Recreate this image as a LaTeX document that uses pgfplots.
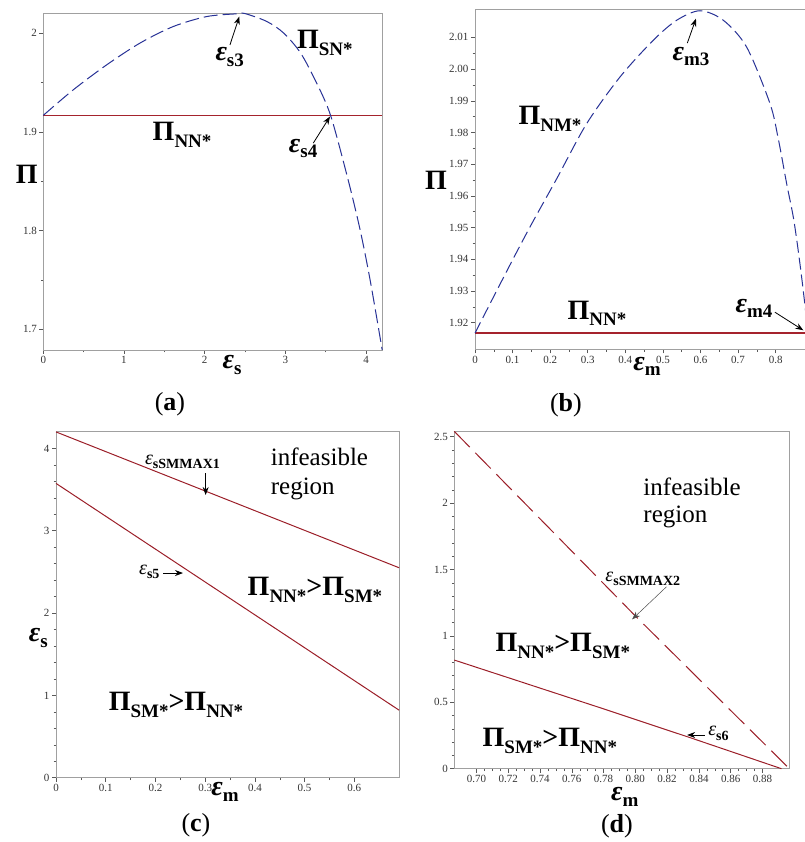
\documentclass[border=0pt]{standalone}
\usepackage{fontspec}
\setmainfont{Liberation Serif}
\usepackage{pgfplots}
\pgfplotsset{compat=1.18}
\usetikzlibrary{arrows.meta}
\definecolor{cblue}{RGB}{40,50,150}
\definecolor{cred}{RGB}{155,30,40}
\definecolor{credh}{RGB}{165,35,45}
\definecolor{cframe}{RGB}{160,160,160}
\newcommand{\bigPi}[1]{\textbf{\fontsize{28}{28}\selectfont Π\raisebox{-0.24em}{\fontsize{19}{19}\selectfont #1}}}
\newcommand{\eps}[1]{\textbf{\fontsize{28}{28}\selectfont\itshape ε\raisebox{-0.2em}{\upshape\fontsize{19}{19}\selectfont #1}}}
\newcommand{\epsS}[1]{{\fontsize{20}{20}\selectfont\itshape ε\raisebox{-0.22em}{\upshape\bfseries\fontsize{14}{14}\selectfont #1}}}
\newcommand{\rel}[2]{\bigPi{#1}\textbf{\fontsize{28}{28}\selectfont >}\bigPi{#2}}
\newcommand{\capt}[1]{{\fontsize{26}{26}\selectfont (\textbf{#1})}}
\pgfplotsset{mapleax/.style={scale only axis, clip=false,
  axis line style={cframe, line width=0.9pt},
  tick pos=left, tick align=outside,
  major tick length=4pt, minor tick length=2.5pt,
  every tick/.style={black!65, line width=0.5pt},
  tick label style={font=\fontsize{11}{11}\selectfont, text=black!80},
  xticklabel style={yshift=1pt}, yticklabel style={xshift=1pt},
  /pgf/number format/assume math mode=true}}
\tikzset{arr/.style={-{Stealth[length=8pt,width=6pt]}, black, line width=0.8pt}}
\begin{document}
\begin{tikzpicture}
\path[use as bounding box] (0pt,0pt) rectangle (804pt,842pt);
% (a)
\begin{axis}[mapleax, at={(43.3pt,492pt)}, anchor=south west,
  width=338.9pt, height=336.4pt, xmin=0, xmax=4.2, ymin=1.679, ymax=2.0198,
  xtick={0,1,2,3,4}, ytick={1.7,1.8,1.9,2}, minor x tick num=1, minor y tick num=1]
\addplot[draw=credh, line width=1.5pt] coordinates {(0,1.9167) (1.4,1.9167) (2.8,1.9167) (4.2,1.9167)};
\addplot[cblue, line width=1pt, dash pattern=on 14pt off 5pt, smooth] coordinates {
(0,1.9167) (0.372,1.9426) (0.786,1.9679) (1.198,1.9899) (1.611,2.0067) (2.025,2.0168)
(2.40,2.0196) (2.5,2.0198) (2.77,2.0118) (2.98,2.0) (3.19,1.9797) (3.39,1.949)
(3.56,1.9167) (3.76,1.857) (3.92,1.803) (4.05,1.750) (4.2,1.679)};
\node at (axis cs:3.49,1.990) {\bigPi{SN*}};
\node at (axis cs:2.31,1.976) {\eps{s3}};
\draw[arr] (axis cs:2.313,1.988) -- (axis cs:2.429,2.0168);
\node at (axis cs:1.72,1.897) {\bigPi{NN*}};
\node at (axis cs:3.22,1.883) {\eps{s4}};
\draw[arr] (axis cs:3.346,1.8886) -- (axis cs:3.553,1.9155);
\node at (axis cs:-0.206,1.8565) {\textbf{\fontsize{28}{28}\selectfont Π}};
\node at (axis cs:2.338,1.664) {\eps{s}};
\node at (axis cs:1.57,1.6236) {\capt{a}};
\end{axis}
% (b)
\begin{axis}[mapleax, at={(475pt,492.7pt)}, anchor=south west,
  width=330.7pt, height=339.5pt, xmin=0, xmax=0.88, ymin=1.9116, ymax=2.0187,
  xtick={0,0.1,...,0.8}, ytick={1.92,1.93,...,2.01}, minor x tick num=1, minor y tick num=1,
  yticklabel style={/pgf/number format/.cd, fixed, fixed zerofill, precision=2}]
\addplot[draw=credh, line width=1.5pt] coordinates {(0,1.9167) (0.44,1.9167) (0.88,1.9167)};
\addplot[cblue, line width=1pt, dash pattern=on 12pt off 5pt, smooth] coordinates {
(0,1.9167) (0.05,1.9283) (0.1,1.9398) (0.15,1.951) (0.2174,1.9654) (0.2972,1.9828)
(0.3858,1.9975) (0.4745,2.0091) (0.5367,2.0154) (0.5987,2.0184) (0.6607,2.0154)
(0.723,2.0069) (0.785,1.9891) (0.807,1.978) (0.8294,1.9638) (0.847,1.9533)
(0.86,1.9428) (0.8736,1.930) (0.886,1.9167)};
\node at (axis cs:0.1996,1.9844) {\bigPi{NM*}};
\node at (axis cs:0.5748,2.004) {\eps{m3}};
\draw[arr] (axis cs:0.565,2.0082) -- (axis cs:0.588,2.0159);
\node at (axis cs:0.3246,1.9229) {\bigPi{NN*}};
\node at (axis cs:0.7424,1.9245) {\eps{m4}};
\draw[arr] (axis cs:0.798,1.9233) -- (axis cs:0.8736,1.9176);
\node at (axis cs:-0.1038,1.9649) {\textbf{\fontsize{28}{28}\selectfont Π}};
\node at (axis cs:0.4577,1.9062) {\eps{m}};
\node at (axis cs:0.242,1.8939) {\capt{b}};
\end{axis}
% (c)
\begin{axis}[mapleax, at={(56pt,64.3pt)}, anchor=south west,
  width=343.1pt, height=346.6pt, xmin=0, xmax=0.69, ymin=0, ymax=4.21,
  xtick={0,0.1,...,0.6}, ytick={0,1,2,3,4}, minor x tick num=1, minor y tick num=4]
\addplot[cred, line width=1pt] coordinates {(0,4.2) (0.69,2.55)};
\addplot[cred, line width=1pt] coordinates {(0,3.575) (0.69,0.82)};
\node[anchor=west, font=\fontsize{25}{25}\selectfont] at (axis cs:0.425,3.896) {infeasible};
\node[anchor=west, font=\fontsize{25}{25}\selectfont] at (axis cs:0.425,3.507) {region};
\node at (axis cs:0.2544,3.835) {\epsS{sSMMAX1}};
\draw[arr] (axis cs:0.301,3.697) -- (axis cs:0.301,3.434);
\node[anchor=east] at (axis cs:0.2152,2.50) {\epsS{s5}};
\draw[arr] (axis cs:0.2152,2.486) -- (axis cs:0.2554,2.486);
\node at (axis cs:0.5208,2.28) {\rel{NN*}{SM*}};
\node at (axis cs:0.2413,0.883) {\rel{SM*}{NN*}};
\node at (axis cs:-0.0356,1.697) {\eps{s}};
\node at (axis cs:0.3398,-0.174) {\eps{m}};
\node at (axis cs:0.2815,-0.58) {\capt{c}};
\end{axis}
% (d)
\begin{axis}[mapleax, at={(454.3pt,73.3pt)}, anchor=south west,
  width=335.1pt, height=337.7pt, xmin=0.686, xmax=0.897, ymin=0, ymax=2.543,
  xtick={0.70,0.72,...,0.881}, ytick={0,0.5,1,1.5,2,2.5}, minor x tick num=3, minor y tick num=4,
  xticklabel style={/pgf/number format/.cd, fixed, fixed zerofill, precision=2}]
\addplot[cred, line width=1pt, dash pattern=on 22pt off 8pt] coordinates {(0.686,2.54) (0.80,1.15) (0.897,0)};
\addplot[cred, line width=1pt] coordinates {(0.686,0.818) (0.7776,0.46) (0.8364,0.226) (0.892,0)};
\node[anchor=west, font=\fontsize{25}{25}\selectfont] at (axis cs:0.8029,2.121) {infeasible};
\node[anchor=west, font=\fontsize{25}{25}\selectfont] at (axis cs:0.8029,1.895) {region};
\node at (axis cs:0.8047,1.429) {\epsS{sSMMAX2}};
\draw[-{Stealth[length=8pt,width=6pt]}, black!70, line width=0.5pt] (axis cs:0.8196,1.370) -- (axis cs:0.798,1.125);
\node at (axis cs:0.7543,0.924) {\rel{NN*}{SM*}};
\node at (axis cs:0.7462,0.209) {\rel{SM*}{NN*}};
\node[anchor=west] at (axis cs:0.8437,0.265) {\epsS{s6}};
\draw[arr] (axis cs:0.8437,0.2538) -- (axis cs:0.8326,0.2538);
\node[inner sep=1pt] at (axis cs:0.7934,-0.2131) {\eps{m}};
\node[inner sep=1pt] at (axis cs:0.7884,-0.4367) {\capt{d}};
\end{axis}
\end{tikzpicture}
\end{document}
